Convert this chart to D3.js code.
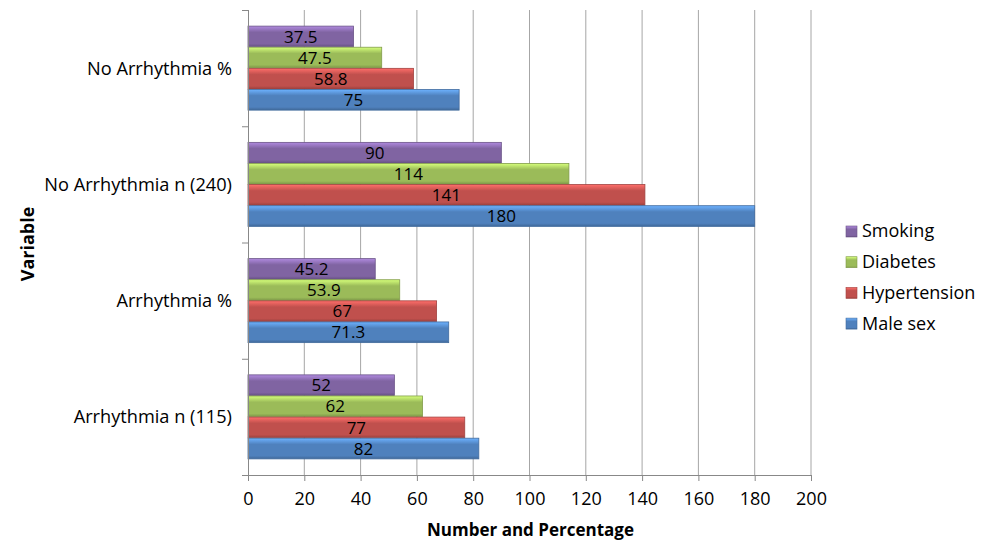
<!DOCTYPE html>
<html>
<head>
<meta charset="utf-8">
<script src="https://cdn.jsdelivr.net/npm/d3@7"></script>
<style>
  body { margin: 0; background: #fff; }
  text { font-family: "Open Sans", "Noto Sans", sans-serif; fill: #000; }
</style>
</head>
<body>
<svg id="chart" width="986" height="555"></svg>
<script>
const categories = ["No Arrhythmia %", "No Arrhythmia n (240)", "Arrhythmia %", "Arrhythmia n (115)"];
const seriesNames = ["Smoking", "Diabetes", "Hypertension", "Male sex"];
const smoking = [37.5, 90, 45.2, 52];
const diabetes = [47.5, 114, 53.9, 62];
const hypertension = [58.8, 141, 67, 77];
const maleSex = [75, 180, 71.3, 82];
const xTicks = [0, 20, 40, 60, 80, 100, 120, 140, 160, 180, 200];
const colors = ["#8064A2", "#9BBB59", "#C0504D", "#4F81BD"];

const series = [smoking, diabetes, hypertension, maleSex];

const svg = d3.select("#chart");
const plotLeft = 248, plotRight = 811, plotTop = 10, plotBottom = 475;

const x = d3.scaleLinear().domain([0, 200]).range([plotLeft, plotRight]);
const y = d3.scaleBand().domain(categories).range([plotTop, plotBottom]).paddingInner(0.27).paddingOuter(0.135);
const yInner = d3.scaleBand().domain(seriesNames).range([0, y.bandwidth()]).padding(0.02);

// gradients for the bevelled look
const defs = svg.append("defs");
colors.forEach((c, i) => {
    const g = defs.append("linearGradient").attr("id", "grad" + i)
        .attr("x1", 0).attr("y1", 0).attr("x2", 0).attr("y2", 1);
    g.append("stop").attr("offset", "0%").attr("stop-color", d3.color(c).brighter(0.9));
    g.append("stop").attr("offset", "30%").attr("stop-color", c);
    g.append("stop").attr("offset", "85%").attr("stop-color", c);
    g.append("stop").attr("offset", "100%").attr("stop-color", d3.color(c).darker(0.6));
});

// gridlines
svg.append("g").selectAll("line")
    .data(xTicks.slice(1))
    .enter().append("line")
    .attr("x1", d => x(d)).attr("x2", d => x(d))
    .attr("y1", plotTop).attr("y2", plotBottom)
    .style("stroke", "#a6a6a6")
    .style("stroke-width", 1);

// bars
const groups = svg.append("g").selectAll("g")
    .data(categories)
    .enter().append("g")
    .attr("transform", d => `translate(0,${y(d)})`);

seriesNames.forEach((name, si) => {
    groups.append("rect")
        .attr("x", x(0))
        .attr("y", yInner(name))
        .attr("height", yInner.bandwidth())
        .attr("width", (d, ci) => x(series[si][ci]) - x(0))
        .attr("fill", `url(#grad${si})`)
        .attr("stroke", d3.color(colors[si]).darker(0.5))
        .attr("stroke-width", 0.8);

    groups.append("text")
        .attr("x", (d, ci) => (x(0) + x(series[si][ci])) / 2)
        .attr("y", yInner(name) + yInner.bandwidth() / 2)
        .attr("dy", "0.36em")
        .attr("text-anchor", "middle")
        .style("font-size", "17px")
        .text((d, ci) => series[si][ci]);
});

// x axis
const xAxis = svg.append("g")
    .attr("transform", `translate(0,${plotBottom})`)
    .call(d3.axisBottom(x).tickValues(xTicks).tickSize(6).tickPadding(11).tickSizeOuter(0));
xAxis.select(".domain").attr("d", `M${plotLeft - 6},0.5H${plotRight}`).style("stroke", "#888");
xAxis.selectAll(".tick line").style("stroke", "#888");
xAxis.selectAll("text").style("font-size", "18px").style("font-family", "'Open Sans', sans-serif");

// y axis line + ticks at band boundaries
svg.append("line")
    .attr("x1", plotLeft + 0.5).attr("x2", plotLeft + 0.5)
    .attr("y1", plotTop).attr("y2", plotBottom + 6)
    .style("stroke", "#888");
const step = (plotBottom - plotTop) / categories.length;
svg.append("g").selectAll("line")
    .data(d3.range(categories.length + 1))
    .enter().append("line")
    .attr("x1", plotLeft - 6).attr("x2", plotLeft)
    .attr("y1", d => plotTop + d * step + 0.5).attr("y2", d => plotTop + d * step + 0.5)
    .style("stroke", "#888");

// category labels
svg.append("g").selectAll("text")
    .data(categories)
    .enter().append("text")
    .attr("x", plotLeft - 16)
    .attr("y", d => y(d) + y.bandwidth() / 2)
    .attr("dy", "0.36em")
    .attr("text-anchor", "end")
    .style("font-size", "18.2px")
    .text(d => d);

// axis titles
svg.append("text")
    .attr("x", (plotLeft + plotRight) / 2 + 1)
    .attr("y", 536)
    .attr("text-anchor", "middle")
    .style("font-size", "17px")
    .style("font-weight", "bold")
    .text("Number and Percentage");

svg.append("text")
    .attr("transform", "translate(34,244) rotate(-90)")
    .attr("text-anchor", "middle")
    .style("font-size", "18px")
    .style("font-weight", "bold")
    .text("Variable");

// legend
const legend = svg.append("g").selectAll("g")
    .data(seriesNames)
    .enter().append("g")
    .attr("transform", (d, i) => `translate(846,${231 + i * 30.7})`);
legend.append("rect")
    .attr("x", 0).attr("y", -5)
    .attr("width", 11).attr("height", 11)
    .attr("fill", (d, i) => `url(#grad${i})`)
    .attr("stroke", (d, i) => d3.color(colors[i]).darker(0.5))
    .attr("stroke-width", 0.6);
legend.append("text")
    .attr("x", 16)
    .attr("dy", "0.36em")
    .style("font-size", "18px")
    .text(d => d);
</script>
</body>
</html>
